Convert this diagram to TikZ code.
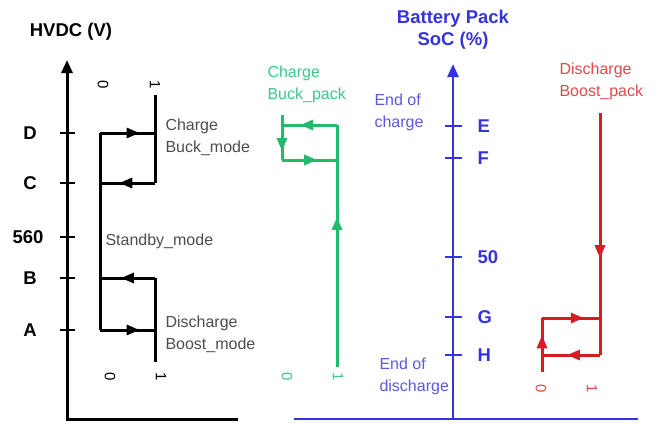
\documentclass[tikz,border=0pt]{standalone}
\usepackage{fontspec}
\setmainfont{Liberation Sans}
\usetikzlibrary{arrows.meta, decorations.markings, positioning}
\definecolor{socblue}{HTML}{3434DC}
\definecolor{soctext}{HTML}{5A5AE0}
\definecolor{buckgreen}{HTML}{20BC6C}
\definecolor{bucktext}{HTML}{3CC986}
\definecolor{boostred}{HTML}{D21E24}
\definecolor{boosttext}{HTML}{DE4A4A}
\definecolor{modegrey}{HTML}{4D4D4D}

\begin{document}
\begin{tikzpicture}[
  x=1pt, y=-1pt,
  axisline/.style={line width=3pt, -{Triangle[length=13pt,width=11pt]}},
  tickline/.style={line width=2.2pt},
  loopline/.style={line width=3pt},
  midarrow/.style={postaction={decorate}, decoration={markings,
      mark=at position #1 with {\arrow{Triangle[length=13pt,width=10pt]}}}},
  midarrow/.default=0.6,
  axislabel/.style={font=\fontsize{18.5}{22}\selectfont\bfseries},
  modetext/.style={font=\fontsize{16}{22}\selectfont, align=left, anchor=west},
  digit/.style={font=\fontsize{15}{16}\selectfont, rotate=-90},
]
  \useasboundingbox (0,0) rectangle (658,423);

  % HVDC axis
  \coordinate (hvorig) at (67,419);
  \coordinate (hvtop) at (67,60);
  \coordinate (hvend) at (238,419);
  \draw[axisline] (hvend) -- (hvorig) -- (hvtop);
  \node[axislabel] (hvtitle) at (71,32) {HVDC (V)};
  \foreach \lab/\yy/\xx in {D/133/30, C/183/30, 560/237/28, B/278/30, A/330/30} {
    \draw[tickline] (60,\yy) -- (75,\yy);
    \node[axislabel] (hv\lab) at (\xx,\yy) {\lab};
  }

  % HVDC hysteresis
  \coordinate (hzD) at (100,133);
  \coordinate (honeD) at (155,133);
  \coordinate (hzC) at (100,183);
  \coordinate (honeC) at (155,183);
  \coordinate (honetop) at (155,95);
  \coordinate (hzB) at (100,278);
  \coordinate (honeB) at (155,278);
  \coordinate (hzA) at (100,330);
  \coordinate (honeA) at (155,330);
  \coordinate (honebot) at (155,362);
  \draw[loopline] (honetop) -- (honeC);
  \draw[loopline, midarrow=0.72] (hzD) -- (honeD);
  \draw[loopline, midarrow=0.65] (honeC) -- (hzC);
  \draw[loopline] (hzD) -- (hzA);
  \draw[loopline, midarrow=0.62] (honeB) -- (hzB);
  \draw[loopline, midarrow=0.72] (hzA) -- (honeA);
  \draw[loopline] (honeB) -- (honebot);

  \node[digit] (hzerotop) at (103,85) {0};
  \node[digit] (honetoplab) at (155,85) {1};
  \node[digit] (hzerobot) at (110,377) {0};
  \node[digit] (honebotlab) at (161,377) {1};

  \node[modetext, text=modegrey] (buckmode) at (162,137) {Charge\\Buck\_mode};
  \node[modetext, text=modegrey] (standby) at (102,241) {Standby\_mode};
  \node[modetext, text=modegrey] (boostmode) at (162,334) {Discharge\\Boost\_mode};

  % charge buck pack (green)
  \node[modetext, text=bucktext] (bucklab) at (264,84) {Charge\\Buck\_pack};
  \coordinate (gztop) at (282,115);
  \coordinate (gzE) at (282,125);
  \coordinate (gzF) at (282,160);
  \coordinate (goneE) at (337,125);
  \coordinate (goneF) at (337,160);
  \coordinate (gonebot) at (337,367);
  \draw[loopline, buckgreen, midarrow=0.8] (gztop) -- (gzF);
  \draw[loopline, buckgreen, midarrow=0.67] (goneE) -- (gzE);
  \draw[loopline, buckgreen, midarrow=0.64] (gzF) -- (goneF);
  \draw[loopline, buckgreen, midarrow=0.62] (gonebot) -- (goneE);
  \node[digit, text=bucktext] (gzerolab) at (287,377) {0};
  \node[digit, text=bucktext] (gonelab) at (338,377) {1};

  % SoC axis
  \coordinate (socorig) at (453,419);
  \coordinate (soctop) at (453,64);
  \coordinate (socleft) at (294,419);
  \coordinate (socright) at (638,419);
  \draw[line width=2.6pt, socblue] (socleft) -- (socright);
  \draw[axisline, line width=2.6pt, socblue] (socorig) -- (soctop);
  \node[axislabel, text=socblue, align=center] (soctitle) at (453,30) {Battery Pack\\SoC (\%)};
  \foreach \lab/\yy in {E/126, F/158, 50/257, G/317, H/355} {
    \draw[tickline, socblue] (445,\yy) -- (462,\yy);
    \node[axislabel, text=socblue, anchor=west] (soc\lab) at (474,\yy) {\lab};
  }
  \node[modetext, text=soctext] (endcharge) at (371,112) {End of\\charge};
  \node[modetext, text=soctext] (enddischarge) at (376,376) {End of\\discharge};

  % discharge boost pack (red)
  \node[modetext, text=boosttext] (boostlab) at (556,81) {Discharge\\Boost\_pack};
  \coordinate (ronetop) at (600,113);
  \coordinate (roneG) at (600,318);
  \coordinate (roneH) at (600,355);
  \coordinate (rzG) at (542,318);
  \coordinate (rzH) at (542,355);
  \coordinate (rzbot) at (542,372);
  \draw[loopline, boostred, midarrow=0.6] (ronetop) -- (roneH);
  \draw[loopline, boostred, midarrow=0.72] (rzG) -- (roneG);
  \draw[loopline, boostred, midarrow=0.57] (roneH) -- (rzH);
  \draw[loopline, boostred, midarrow=0.68] (rzbot) -- (rzG);
  \node[digit, text=boosttext] (rzerolab) at (541,389) {0};
  \node[digit, text=boosttext] (ronelab) at (592,389) {1};
\end{tikzpicture}
\end{document}
